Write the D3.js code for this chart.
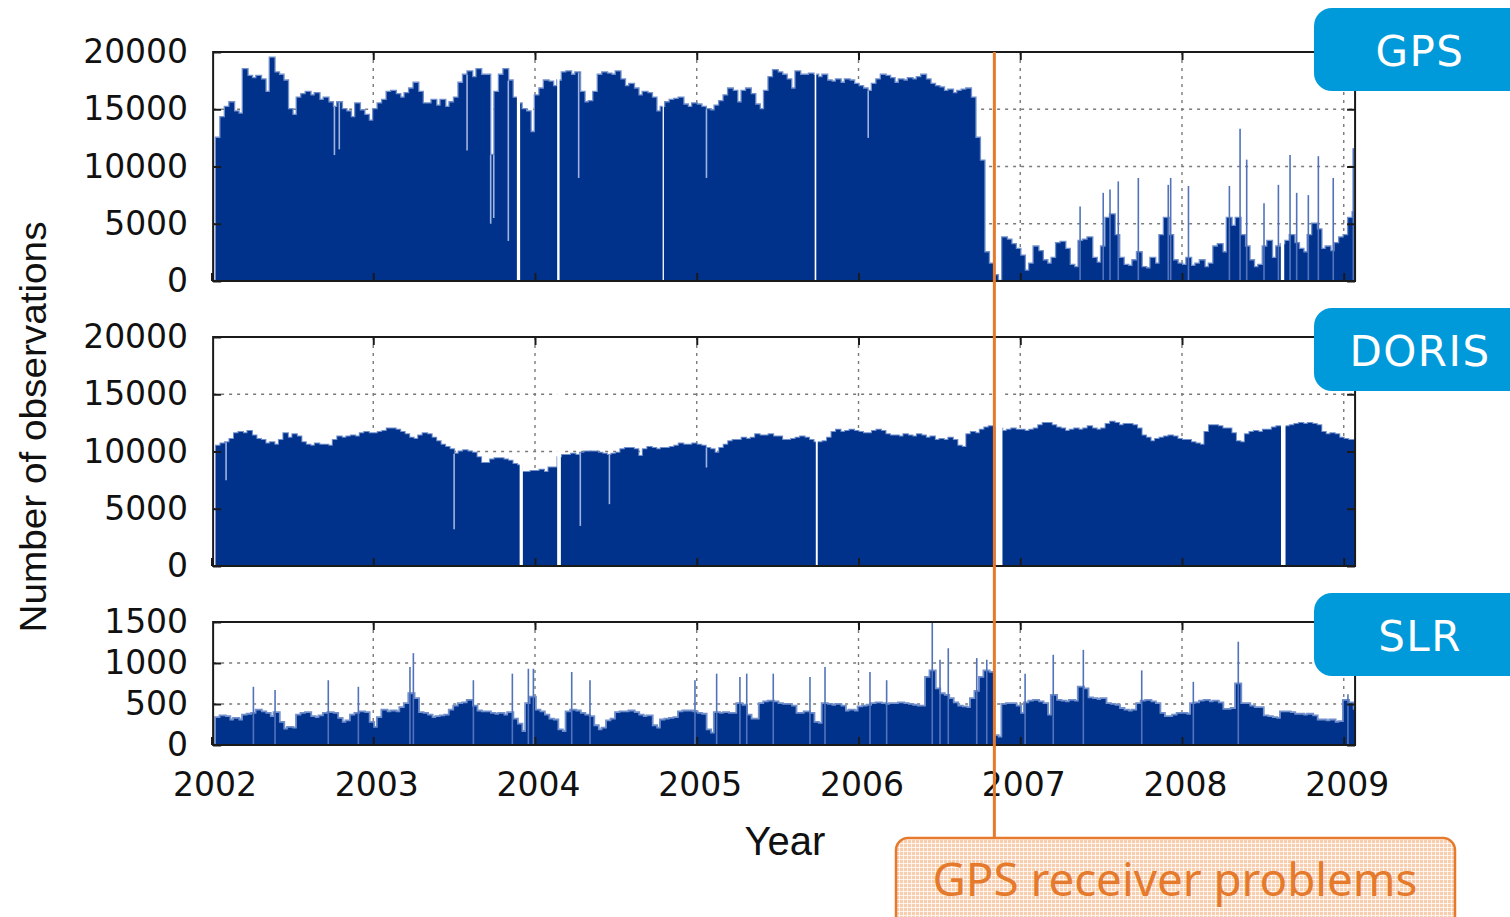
<!DOCTYPE html>
<html>
<head>
<meta charset="utf-8">
<script src="https://cdnjs.cloudflare.com/ajax/libs/d3/7.8.5/d3.min.js"></script>
<style>
body{margin:0;background:#fff;}
svg{display:block;}
</style>
</head>
<body>
<svg id="chart" width="1510" height="917"></svg>
<script>
// daily observation counts, read as one value per 10-day step (36 steps a year), from 2002.0
var startYear = 2002, stepsPerYear = 36;
var years = [2002, 2003, 2004, 2005, 2006, 2007, 2008, 2009];
var obsTicks = [0, 5000, 10000, 15000, 20000];
var slrTicks = [0, 500, 1000, 1500];

var gpsObs = [
	0,12500,14300,15200,15600,14800,14600,18500,17900,17700,17900,17600,16500,19500,18200,18000,17500,15000,14500,16000,16300,16500,16200,16400,15800,16000,15600,15200,15600,15000,14800,14300,15500,14900,14500,14000,
	15000,15500,15800,16500,16600,16300,16000,16400,16800,17300,16500,15500,15500,15800,15300,15800,15200,15600,16000,17300,18000,18300,17800,18500,18000,18000,11000,16500,18000,18500,17500,16000,15500,15000,14800,13000,
	16200,16800,17500,17400,17000,17500,18200,18300,18000,18200,16500,15600,15700,16500,18000,18200,18100,18000,18300,17600,17000,17200,16800,16200,16500,16400,16000,14800,15200,15600,15800,15900,16000,15400,15200,15500,
	15400,15200,15000,14900,15300,15700,16200,16800,16600,15600,16600,16800,16300,15400,15000,16600,17800,18400,18200,18000,17600,16800,18300,18000,18000,18100,18000,17800,18000,17500,17400,17600,17300,17600,17500,17200,
	17000,16800,16600,17200,17600,18000,17900,17700,17300,17600,17500,17700,17600,17800,18000,17600,17200,17000,16900,16600,16700,16400,16600,16700,16800,16000,12500,10500,2500,1500,500,0,3800,3600,3200,2800,
	2200,900,1500,3000,2600,1800,1500,2000,3300,3400,2800,1400,1200,3500,3600,3800,2000,1600,3000,5500,5800,4000,2000,1400,1300,1800,2500,1200,1100,2000,1500,4000,5500,4000,1800,1500,
	1400,2000,1300,1500,1800,1200,1500,3000,3200,2500,5500,4800,5500,4000,3000,1800,1200,1400,3000,3500,2000,3000,3200,3500,4000,3300,2800,2500,4000,5000,4500,2800,3000,2600,3300,3800,
	4000,5500,6000
];
var dorisObs = [
	0,10500,10700,10800,11100,11600,11700,11600,11800,11400,11100,11000,10700,10800,10600,11000,11600,11200,11500,11300,10800,10600,10500,10700,10600,10600,10500,11000,11300,11200,11300,11400,11300,11600,11700,11600,
	11600,11700,11800,12000,12000,11900,11700,11500,11200,11100,11400,11600,11500,11200,10900,10600,10400,10200,9800,10000,10100,10000,9900,9500,9000,9000,9300,9400,9400,9300,9200,8900,8800,8200,8200,8300,
	8300,8400,8200,8600,8600,9500,9700,9700,9800,9700,9900,10000,10000,10000,9900,9800,9700,9800,9900,10200,10300,10300,10200,9600,10200,10400,10300,10200,10300,10300,10400,10500,10700,10600,10600,10700,
	10600,10500,10300,10200,9900,10300,10600,10900,11000,11000,11200,11100,11200,11500,11400,11400,11500,11300,11300,11000,11000,11100,11200,11300,11200,11000,10800,10800,10900,11200,11700,11900,11700,11800,11900,11800,
	11700,11600,11600,11800,11900,11800,11500,11400,11400,11300,11500,11400,11300,11500,11400,11200,11300,11000,11100,11000,11200,11000,10500,10400,11500,11700,11600,11900,12100,12200,12100,12000,11800,11900,12000,11900,
	11900,11800,11900,12000,12300,12500,12500,12300,12100,12000,11800,11900,12000,11900,12000,12200,12000,11900,12000,12400,12600,12500,12300,12400,12400,12300,12000,11400,11200,10900,11100,11200,11300,11400,11300,11100,
	11000,11000,10800,10700,10600,11700,12300,12300,12200,12000,12000,11600,10900,10800,11500,11700,11800,11700,11900,11900,12100,12200,12100,12200,12300,12400,12500,12400,12500,12400,12300,11700,11500,11600,11500,11200,
	11100,11000,11000
];
var slrObs = [
	0,330,350,340,300,320,300,360,370,380,420,400,380,340,390,270,190,210,200,360,380,390,340,330,350,380,390,380,320,270,290,360,380,400,390,270,
	210,330,420,400,410,400,450,500,620,560,390,380,360,330,340,350,360,420,470,500,510,540,470,410,400,400,380,370,380,360,390,310,250,160,500,580,
	420,400,360,310,300,180,160,400,420,410,380,360,340,230,180,200,290,310,390,400,400,410,390,360,340,350,230,200,300,310,320,330,400,410,410,400,
	380,370,180,140,390,380,390,380,380,500,480,360,310,310,500,520,530,520,500,490,490,470,380,380,400,380,270,260,500,490,480,490,470,410,420,410,
	460,470,480,500,510,500,490,500,500,510,500,490,480,470,470,820,900,680,620,600,560,510,470,460,450,560,650,820,900,880,110,90,490,500,500,470,
	380,510,530,540,520,500,360,600,540,530,520,540,530,700,680,570,560,550,560,500,490,480,440,420,410,420,500,530,540,520,500,380,340,340,360,380,
	380,370,500,510,530,540,520,530,510,430,430,440,740,500,500,470,450,450,350,340,330,320,400,400,390,370,370,360,370,350,300,300,290,300,270,280,
	540,510,430
];

// single-day spikes [year, value]
var gpsPeaks = [[2007.37,6500],[2007.513,7700],[2007.555,8000],[2007.606,8700],[2007.73,9000],[2007.915,8400],[2007.93,9000],
	[2008.04,8300],[2008.293,8300],[2008.359,13300],[2008.40,10600],[2008.507,6800],[2008.596,8400],[2008.668,11000],
	[2008.709,7700],[2008.781,7500],[2008.843,10900],[2008.935,9000],[2009.059,11600]];
var dorisPeaks = [];
var slrPeaks = [[2002.259,710],[2002.393,670],[2002.722,790],[2002.908,710],[2003.227,950],[2003.248,1120],[2003.619,790],
	[2003.86,870],[2003.959,930],[2003.99,930],[2004.227,890],[2004.34,790],[2004.989,790],[2005.123,870],[2005.267,830],
	[2005.309,870],[2005.473,870],[2005.70,830],[2005.793,950],[2006.071,890],[2006.174,790],[2006.456,1500],[2006.504,1040],
	[2006.555,1180],[2006.731,1060],[2006.793,1040],[2007.03,870],[2007.204,1100],[2007.39,1160],[2007.751,910],[2008.07,770],
	[2008.348,1260],[2009.026,620]];

// single-day drops [year, value]
var gpsDips = [[2002.76,11000],[2002.79,11500],[2003.58,11400],[2003.726,5000],[2003.745,5500],[2003.835,3500],
	[2004.27,9000],[2005.06,9000],[2006.06,12500]];
var dorisDips = [[2002.09,7500],[2003.50,3200],[2004.28,3500],[2004.46,5400],[2005.06,8600]];
var slrDips = [];

// days without data [from, to]
var gpsGaps = [[2003.888,2003.908],[2004.137,2004.152],[2004.789,2004.797],[2005.729,2005.739],[2008.611,2008.632]];
var dorisGaps = [[2003.905,2003.925],[2004.137,2004.160],[2005.736,2005.748],[2006.846,2006.890],[2008.612,2008.640]];
var slrGaps = [];

var problemDate = 2006.84;

var panels = [
	{name : "GPS", values : gpsObs, peaks : gpsPeaks, dips : gpsDips, gaps : gpsGaps, ticks : obsTicks, top : 52, bottom : 281, boxY : 8, rim : 2.6},
	{name : "DORIS", values : dorisObs, peaks : dorisPeaks, dips : dorisDips, gaps : dorisGaps, ticks : obsTicks, top : 337, bottom : 566, boxY : 308, rim : 2},
	{name : "SLR", values : slrObs, peaks : slrPeaks, dips : slrDips, gaps : slrGaps, ticks : slrTicks, top : 622, bottom : 745, boxY : 593, rim : 3.6}
];

var BAR = "#00328c", BAR_EDGE = "#7290cc", ORANGE = "#e57a2c", LABEL_BLUE = "#009ada";
var TICK_FONT = "DejaVu Sans, Verdana, sans-serif";

var svg = d3.select("#chart");
var defs = svg.append("defs");
var x = d3.scaleLinear().domain([2002, 2009]).range([211.5, 1343.75]);
var frameX0 = x(2002.01), frameX1 = x(2009.07);

function stepData(values){
	var pts = values.map(function(v, i){ return {t : startYear + i / stepsPerYear, v : v}; });
	pts.push({t : startYear + values.length / stepsPerYear, v : values[values.length - 1]});
	return pts;
}
function levelAt(values, t){
	var i = Math.floor((t - startYear) * stepsPerYear);
	return values[Math.max(0, Math.min(values.length - 1, i))];
}

function styleAxis(gAxis){
	gAxis.select(".domain").remove();
	gAxis.attr("font-family", TICK_FONT).attr("font-size", 33);
	gAxis.selectAll("line").attr("stroke", "#1a1a1a").attr("stroke-width", 2);
	gAxis.selectAll("text").attr("fill", "#111");
}

function drawPanel(p, idx){
	var y = d3.scaleLinear().domain([0, p.ticks[p.ticks.length - 1]]).range([p.bottom, p.top]);
	var g = svg.append("g").attr("class", "panel " + p.name);
	var clipId = "clip-" + idx;
	defs.append("clipPath").attr("id", clipId).append("rect")
		.attr("x", frameX0).attr("y", p.top)
		.attr("width", frameX1 - frameX0).attr("height", p.bottom - p.top);

	// dashed grid behind the bars
	var grid = g.append("g").attr("stroke", "#7a7a7a").attr("stroke-width", 1.4).attr("stroke-dasharray", "3,5");
	grid.selectAll("line.h").data(p.ticks.slice(1, -1)).enter().append("line")
		.attr("class", "h")
		.attr("x1", frameX0).attr("x2", frameX1)
		.attr("y1", function(d){ return y(d); }).attr("y2", function(d){ return y(d); });
	grid.selectAll("line.v").data(years.slice(1)).enter().append("line")
		.attr("class", "v")
		.attr("x1", function(d){ return x(d); }).attr("x2", function(d){ return x(d); })
		.attr("y1", p.top).attr("y2", p.bottom);

	var body = g.append("g").attr("clip-path", "url(#" + clipId + ")");
	var area = d3.area().curve(d3.curveStepAfter)
		.x(function(d){ return x(d.t); })
		.y0(y(0))
		.y1(function(d){ return y(d.v); });
	var pts = stepData(p.values);
	body.append("path").datum(pts).attr("d", area)
		.attr("fill", BAR_EDGE).attr("stroke", BAR_EDGE).attr("stroke-width", p.rim);
	body.append("path").datum(pts).attr("d", area).attr("fill", BAR);

	body.selectAll("line.peak").data(p.peaks).enter().append("line")
		.attr("class", "peak")
		.attr("x1", function(d){ return x(d[0]); }).attr("x2", function(d){ return x(d[0]); })
		.attr("y1", y(0)).attr("y2", function(d){ return y(d[1]); })
		.attr("stroke", "#5273bb").attr("stroke-width", 1.6);

	body.selectAll("line.dip").data(p.dips).enter().append("line")
		.attr("class", "dip")
		.attr("x1", function(d){ return x(d[0]); }).attr("x2", function(d){ return x(d[0]); })
		.attr("y1", function(d){ return y(d[1]); })
		.attr("y2", function(d){ return y(levelAt(p.values, d[0])); })
		.attr("stroke", "#9fb3df").attr("stroke-width", 1.6);

	body.selectAll("rect.gap").data(p.gaps).enter().append("rect")
		.attr("class", "gap")
		.attr("x", function(d){ return x(d[0]); })
		.attr("width", function(d){ return x(d[1]) - x(d[0]); })
		.attr("y", p.top).attr("height", p.bottom - p.top)
		.attr("fill", "#fff");

	// ticks on all four sides, pointing inward
	var gy = g.append("g").attr("transform", "translate(" + frameX0 + ",0)")
		.call(d3.axisLeft(y).tickValues(p.ticks).tickSizeInner(-8).tickSizeOuter(0).tickPadding(25).tickFormat(d3.format("d")));
	styleAxis(gy);
	var gr = g.append("g").attr("transform", "translate(" + frameX1 + ",0)")
		.call(d3.axisRight(y).tickValues(p.ticks).tickSizeInner(-8).tickSizeOuter(0).tickFormat(""));
	styleAxis(gr);
	var gt = g.append("g").attr("transform", "translate(0," + p.top + ")")
		.call(d3.axisTop(x).tickValues(years.slice(1)).tickSizeInner(-8).tickSizeOuter(0).tickFormat(""));
	styleAxis(gt);
	var isLast = idx === panels.length - 1;
	var gb = g.append("g").attr("transform", "translate(0," + p.bottom + ")")
		.call(d3.axisBottom(x).tickValues(years).tickSizeInner(-8).tickSizeOuter(0).tickPadding(28)
			.tickFormat(isLast ? d3.format("d") : ""));
	styleAxis(gb);
	gb.selectAll("text").attr("dx", 3);

	g.append("rect")
		.attr("x", frameX0).attr("y", p.top)
		.attr("width", frameX1 - frameX0).attr("height", p.bottom - p.top)
		.attr("fill", "none").attr("stroke", "#1a1a1a").attr("stroke-width", 2);
}

panels.forEach(drawPanel);

// axis titles
svg.append("text")
	.attr("transform", "translate(46,427) rotate(-90)")
	.attr("text-anchor", "middle")
	.attr("font-family", "Liberation Sans, Arial, sans-serif").attr("font-size", 37)
	.attr("textLength", 411).attr("lengthAdjust", "spacingAndGlyphs")
	.attr("fill", "#111")
	.text("Number of observations");
svg.append("text")
	.attr("x", 785).attr("y", 855)
	.attr("text-anchor", "middle")
	.attr("font-family", "Liberation Sans, Arial, sans-serif").attr("font-size", 40)
	.attr("fill", "#111")
	.text("Year");

// technique labels
var labels = svg.append("g").attr("class", "labels");
labels.selectAll("rect").data(panels).enter().append("rect")
	.attr("x", 1314).attr("y", function(d){ return d.boxY; })
	.attr("width", 230).attr("height", 83).attr("rx", 18)
	.attr("fill", LABEL_BLUE);
labels.selectAll("text").data(panels).enter().append("text")
	.attr("x", 1420).attr("y", function(d){ return d.boxY + 58; })
	.attr("text-anchor", "middle")
	.attr("font-family", TICK_FONT).attr("font-size", 42)
	.attr("letter-spacing", 1.5)
	.attr("fill", "#fff")
	.text(function(d){ return d.name; });

// GPS receiver problems marker
var pat = defs.append("pattern").attr("id", "peach").attr("patternUnits", "userSpaceOnUse")
	.attr("width", 4).attr("height", 4);
pat.append("rect").attr("width", 4).attr("height", 4).attr("fill", "#f7cfae");
pat.append("rect").attr("x", 3).attr("width", 1).attr("height", 4).attr("fill", "#fff").attr("opacity", 0.75);
pat.append("rect").attr("y", 3).attr("width", 4).attr("height", 1).attr("fill", "#fff").attr("opacity", 0.75);

svg.append("line")
	.attr("x1", x(problemDate)).attr("x2", x(problemDate))
	.attr("y1", panels[0].top).attr("y2", 838)
	.attr("stroke", ORANGE).attr("stroke-width", 3);
svg.append("rect")
	.attr("x", 896).attr("y", 838).attr("width", 559).attr("height", 100).attr("rx", 12)
	.attr("fill", "url(#peach)").attr("stroke", ORANGE).attr("stroke-width", 2.5);
svg.append("text")
	.attr("x", 1175).attr("y", 896)
	.attr("text-anchor", "middle")
	.attr("font-family", "Noto Sans, Open Sans, sans-serif").attr("font-size", 46)
	.attr("textLength", 485).attr("lengthAdjust", "spacingAndGlyphs")
	.attr("fill", ORANGE)
	.text("GPS receiver problems");
</script>
</body>
</html>
